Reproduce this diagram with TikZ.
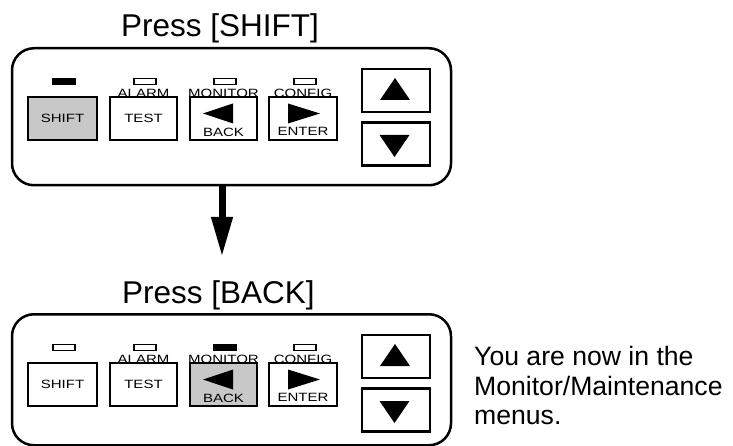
\documentclass[tikz,border=0pt]{standalone}
\usepackage{fontspec}
\setmainfont{Liberation Sans}
\newfontfamily\keyfamily[FakeStretch=1.25]{Liberation Sans}
\usetikzlibrary{arrows.meta}
\definecolor{keygray}{RGB}{200,200,200}
\tikzset{
 panel/.style={draw, line width=2.5pt, rounded corners=22pt, minimum width=439pt, inner sep=0pt, anchor=north},
 key/.style={draw, line width=2.5pt, minimum height=43pt, inner sep=0pt, font=\keyfamily\fontsize{12}{14}\selectfont},
 ledlamp/.style={draw, line width=1.8pt, minimum width=22pt, minimum height=6pt, inner sep=0pt},
 keytext/.style={font=\keyfamily\fontsize{12}{14}\selectfont, inner sep=0pt},
 title/.style={font=\fontsize{31.5}{36}\selectfont, inner sep=0pt, anchor=base west},
 note/.style={font=\fontsize{26.6}{30}\selectfont, inner sep=0pt, anchor=base west},
}
% #1 prefix, #2 yshift, #3 panel height, #4 shift key fill, #5 shift led fill, #6 back key fill, #7 monitor led fill
\newcommand\drawkeypad[7]{%
 \begin{scope}[yshift=-#2pt]
  \node[panel, minimum height=#3pt] (#1panel) at (231.5,47) {};
  \node[key, minimum width=69pt, fill=#4] (#1shift) at (62.5,118.5) {SHIFT};
  \node[key, minimum width=67pt, fill=white] (#1test) at (143.5,118.5) {TEST};
  \node[key, minimum width=67pt, fill=#6] (#1back) at (223.5,118.5) {};
  \node[key, minimum width=68pt, fill=white] (#1enter) at (303,118.5) {};
  \node[key, minimum width=68pt, fill=white] (#1up) at (396,90.5) {};
  \node[key, minimum width=68pt, fill=white] (#1down) at (396,144) {};
  \node[keytext] (#1backtxt) at (223.5,132.8) {BACK};
  \node[keytext] (#1entertxt) at (303,131.8) {ENTER};
  \node[keytext] (#1alarm) at (143.5,93.3) {ALARM};
  \node[keytext] (#1monitor) at (223.5,93.3) {MONITOR};
  \node[keytext] (#1config) at (303,93.3) {CONFIG};
  \node[ledlamp, fill=#5] (#1ledshift) at (64,81.5) {};
  \node[ledlamp, fill=white] (#1ledalarm) at (145,81.5) {};
  \node[ledlamp, fill=#7] (#1ledmonitor) at (225,81.5) {};
  \node[ledlamp, fill=white] (#1ledconfig) at (305,81.5) {};
 \end{scope}
 \fill[shift={(#1back.center)}] (-20.5,-5) -- (9.5,-15) -- (9.5,5) -- cycle;
 \fill[shift={(#1enter.center)}] (-15,-15) -- (-15,5) -- (17,-5) -- cycle;
 \fill[shift={(#1up.center)}] (-1,-12.5) -- (-16,9.5) -- (14,9.5) -- cycle;
 \fill[shift={(#1down.center)}] (-16.5,-9) -- (13.5,-9) -- (-1.5,13) -- cycle;
}
\begin{document}
\begin{tikzpicture}[x=1pt, y=-1pt]
 \useasboundingbox (0,0) rectangle (733,446);
 \node[title] (t1) at (121,37) {Press [SHIFT]};
 \node[title] (t2) at (122,303) {Press [BACK]};
 \drawkeypad{a}{0}{137}{keygray}{black}{white}{white}
 \drawkeypad{b}{266}{131}{white}{white}{keygray}{black}
 \coordinate (aend) at (222,257);
 \draw[line width=7pt, -{Triangle[length=40pt,width=20pt]}] (apanel.south -| aend) -- (aend);
 \node[note] (n1) at (474,365) {You are now in the};
 \node[note] (n2) at (474,395) {Monitor/Maintenance};
 \node[note] (n3) at (474,424) {menus.};
\end{tikzpicture}
\end{document}
